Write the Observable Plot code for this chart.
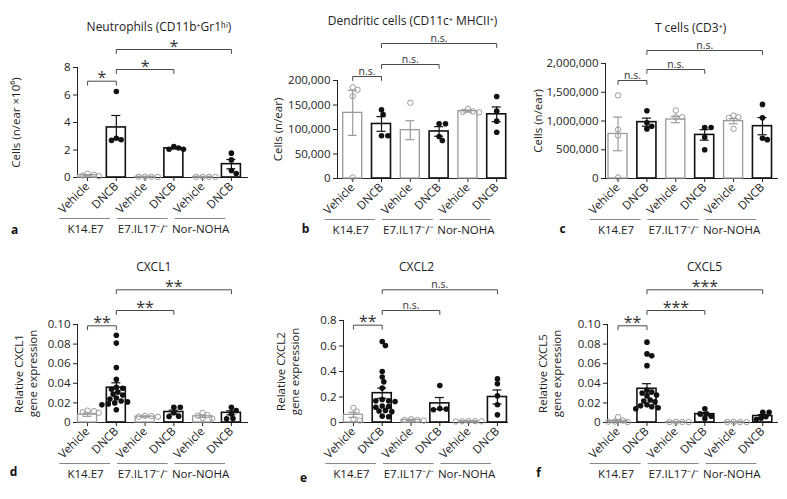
<!DOCTYPE html>
<html><head><meta charset="utf-8">
<script src="https://cdn.jsdelivr.net/npm/d3@7"></script>
<script src="https://cdn.jsdelivr.net/npm/@observablehq/plot@0.6"></script>
<style>
body{margin:0;background:#fff;}
#root{position:relative;width:787px;height:499px;overflow:hidden;}
.panel{position:absolute;}
</style></head><body><div id="root"></div>
<script>
// ---------- shared categories ----------
const treatment = ["Vehicle","DNCB","Vehicle","DNCB","Vehicle","DNCB"];
const groups = ["K14.E7","E7.IL17⁻/⁻","Nor-NOHA"];
const bracketPairs = [[0,1],[1,3],[1,5]];

// ---------- panel a: Neutrophils ----------
const neutroTitle = "Neutrophils (CD11b⁺Gr1ʰⁱ)";
const neutroYLabel = "Cells (n/ear ×10⁶)";
const neutroTicks = [0,2,4,6,8];
const neutroMean = [0.17, 3.64, 0.05, 2.12, 0.045, 0.97];
const neutroSem  = [0.04, 0.87, 0.005, 0.05, 0.005, 0.34];
const neutroPoints = [[0.10,0.14,0.20,0.28],[6.25,2.85,2.70,2.75],[0.05,0.06,0.04,0.05],[2.15,2.05,2.05,2.25],[0.04,0.05,0.05,0.04],[1.77,1.28,0.51,0.29]];
const neutroSig = ["*","*","*"];

// ---------- panel b: Dendritic cells ----------
const dcTitle = "Dendritic cells (CD11c⁺ MHCII⁺)";
const dcYLabel = "Cells (n/ear)";
const dcTicks = [0,50000,100000,150000,200000];
const dcMean = [134000, 111300, 98600, 96000, 137500, 131000];
const dcSem  = [46000, 15000, 19400, 9800, 2000, 15000];
const dcPoints = [[181000,186000,168000,2000],[140200,130600,87100,87100],[154500],[111600,111600,85700,77600],[137000,135000,136000,142000],[167400,137400,117000,94500]];
const dcSig = ["n.s.","n.s.","n.s."];

// ---------- panel c: T cells ----------
const tTitle = "T cells (CD3⁺)";
const tYLabel = "Cells (n/ear)";
const tTicks = [0,500000,1000000,1500000,2000000];
const tMean = [775000, 980000, 1026000, 758000, 997000, 910000];
const tSem  = [292000, 70000, 55000, 91000, 45000, 150000];
const tPoints = [[1446000,851000,746000,17000],[1178000,968000,910000,863000],[1184000,1067000,1067000],[886000,886000,717000,501000],[1096000,1067000,1055000,863000],[1289000,1055000,676000,700000]];
const tSig = ["n.s.","n.s.","n.s."];

// ---------- panel d: CXCL1 ----------
const cxcl1Title = "CXCL1";
const cxcl1YLabel = "Relative CXCL1\ngene expression";
const cxcl1Ticks = [0,0.02,0.04,0.06,0.08,0.10];
const cxcl1Mean = [0.0080, 0.0355, 0.0060, 0.0107, 0.0063, 0.0099];
const cxcl1Sem  = [0.0017, 0.0050, 0.0005, 0.0020, 0.0013, 0.0021];
const cxcl1Points = [[0.0099,0.0116,0.0105,0.0122],[0.089,0.081,0.056,0.044,0.036,0.035,0.034,0.031,0.029,0.028,0.025,0.024,0.022,0.021,0.020,0.019,0.018,0.013],[0.0065,0.0060,0.0068,0.0058],[0.0156,0.0156,0.0099,0.0061,0.0065],[0.0070,0.0098,0.0075,0.0040,0.0045],[0.0122,0.0156,0.0088,0.0037,0.0040]];
const cxcl1Sig = ["**","**","**"];

// ---------- panel e: CXCL2 ----------
const cxcl2Title = "CXCL2";
const cxcl2YLabel = "Relative CXCL2\ngene expression";
const cxcl2Ticks = [0,0.2,0.4,0.6,0.8];
const cxcl2Mean = [0.06, 0.23, 0.02, 0.15, 0.01, 0.20];
const cxcl2Sem  = [0.02, 0.04, 0.004, 0.046, 0.002, 0.055];
const cxcl2Points = [[0.115,0.085,0.025,0.015],[0.635,0.604,0.40,0.356,0.319,0.27,0.18,0.17,0.17,0.165,0.13,0.125,0.12,0.095,0.09,0.085,0.05,0.045],[0.025,0.02,0.02,0.015],[0.29,0.105,0.10,0.11],[0.01,0.012,0.008,0.01,0.009],[0.342,0.303,0.209,0.139,0.06]];
const cxcl2Sig = ["**","n.s.","n.s."];

// ---------- panel f: CXCL5 ----------
const cxcl5Title = "CXCL5";
const cxcl5YLabel = "Relative CXCL5\ngene expression";
const cxcl5Ticks = [0,0.02,0.04,0.06,0.08,0.10];
const cxcl5Mean = [0.0015, 0.0344, 0.0005, 0.0085, 0.0005, 0.0066];
const cxcl5Sem  = [0.0008, 0.0052, 0.0001, 0.0017, 0.0001, 0.0015];
const cxcl5Points = [[0.0055,0.002,0.001,0.0005,0.0008],[0.082,0.070,0.068,0.058,0.033,0.031,0.030,0.028,0.027,0.023,0.022,0.021,0.018,0.017,0.016,0.015,0.014],[0.0006,0.0005,0.0004,0.0005],[0.014,0.009,0.0088,0.0065,0.004],[0.0006,0.0004,0.0005,0.0005],[0.0105,0.0105,0.006,0.0044,0.003]];
const cxcl5Sig = ["**","***","***"];

// ---------- styling / layout ----------
const VEH = "#9b9b9b", DNCB = "#111", BRK = "#4a4a4a", TXT = "#222";
const FONT = "'Open Sans', sans-serif";
const fmtComma = d3.format(",");
const fmt2 = v => v === 0 ? "0" : d3.format(".2f")(v);
const fmt1 = v => v === 0 ? "0" : d3.format(".1f")(v);

function swarm(vals, pxPerY, r) {
  const order = d3.range(vals.length).sort((a,b)=>vals[b]-vals[a]);
  const placed = [], out = new Array(vals.length), minD = 2*r*0.92;
  for (const k of order) {
    const y = vals[k]*pxPerY;
    let chosen = null;
    for (let s = 0; s <= 10 && chosen === null; s++) {
      for (const sign of (s === 0 ? [1] : [1,-1])) {
        const c = sign*s*1.6;
        if (placed.every(p => (p.x-c)**2 + (p.y-y)**2 >= minD*minD)) { chosen = c; break; }
      }
    }
    if (chosen === null) chosen = 0;
    placed.push({x: chosen, y}); out[k] = chosen;
  }
  return out;
}

function panel(p) {
  const frameH = p.height - p.mT - p.mB;
  const frameW = p.width - p.mL - p.mR;
  const bottom = p.height - p.mB;
  const ymax = p.ticks[p.ticks.length-1];
  const pxPerX = frameW/(p.xdom[1]-p.xdom[0]);
  const pxPerY = frameH/ymax;
  const bars = p.mean.map((m,i)=>({i, mean:m, sem:p.sem[i], veh: i%2===0}));
  const pts = [];
  p.points.forEach((arr,i)=>{
    const offs = swarm(arr, pxPerY, 2.7);
    arr.forEach((v,k)=>pts.push({x: i + offs[k]/pxPerX, v, veh: i%2===0}));
  });
  const capHalf = 4.5/pxPerX;
  const caps = bars.flatMap(b=>[{i:b.i, y:b.mean-b.sem, veh:b.veh},{i:b.i, y:b.mean+b.sem, veh:b.veh}]);
  const tick = 4/pxPerY;
  const brk = [], brkLab = [];
  bracketPairs.forEach(([a,b],k)=>{
    const L = ymax*(bottom - p.bracketPx[k])/frameH;
    brk.push({id:k,x:a,y:L-tick},{id:k,x:a,y:L},{id:k,x:b,y:L},{id:k,x:b,y:L-tick});
    brkLab.push({x:(a+b)/2, y:L, t:p.sig[k], ns: p.sig[k] === "n.s."});
  });
  const grp = groups.map((g,k)=>({g, x1:2*k-0.96, x2:2*k+0.8, xc:2*k-0.07}));
  const fillFor = d => d.veh ? VEH : DNCB;
  const chart = Plot.plot({
    width: p.width, height: p.height,
    marginLeft: p.mL, marginRight: p.mR, marginTop: p.mT, marginBottom: p.mB,
    style: {fontFamily: FONT, fontSize: "11.5px", color: TXT, background: "transparent", overflow: "visible"},
    x: {type:"linear", domain: p.xdom, ticks:[0,1,2,3,4,5], tickFormat: i => treatment[i], tickRotate:-45, tickSize:4, tickPadding:3, line:true, label:null},
    y: {domain:[0,ymax], ticks: p.ticks, tickFormat: p.fmt, tickSize:4, tickPadding:3, line:true, label:null},
    marks: [
      Plot.rectY(bars.filter(d=>d.veh), {x1:d=>d.i-0.33, x2:d=>d.i+0.33, y1:0, y2:"mean", fill:"white", stroke:VEH, strokeWidth:1.3}),
      Plot.rectY(bars.filter(d=>!d.veh), {x1:d=>d.i-0.33, x2:d=>d.i+0.33, y1:0, y2:"mean", fill:"white", stroke:DNCB, strokeWidth:1.6}),
      Plot.ruleX(bars, {x:"i", y1:d=>Math.max(0,d.mean-d.sem), y2:d=>d.mean+d.sem, stroke:fillFor, strokeWidth:1.2}),
      Plot.ruleY(caps, {x1:d=>d.i-capHalf, x2:d=>d.i+capHalf, y:"y", stroke:fillFor, strokeWidth:1.2}),
      Plot.dot(pts.filter(d=>d.veh), {x:"x", y:"v", r:2.7, stroke:VEH, fill:"none", strokeWidth:1}),
      Plot.dot(pts.filter(d=>!d.veh), {x:"x", y:"v", r:2.8, fill:DNCB, stroke:"none"}),
      Plot.line(brk, {x:"x", y:"y", z:"id", stroke:BRK, strokeWidth:1}),
      Plot.text(brkLab.filter(d=>d.ns), {x:"x", y:"y", text:"t", lineAnchor:"bottom", dy:-2, fill:"#333", fontSize:10.5}),
      Plot.text(brkLab.filter(d=>!d.ns), {x:"x", y:"y", text:"t", lineAnchor:"middle", dy:-3, fill:"#333", fontSize:16, letterSpacing:"1.5px"}),
      Plot.ruleY(grp, {x1:"x1", x2:"x2", y:0, dy:41, stroke:"#888", strokeWidth:1}),
      Plot.text(grp, {x:"xc", y:0, dy:52, text:"g", fontSize:11.5, fill:TXT}),
      Plot.text([p.title], {x: p.titleX, frameAnchor:"top", lineAnchor:"middle", dy:p.titleDy, fontSize:12, fill:TXT}),
      Plot.text([p.ylabel], {frameAnchor:"left", textAnchor:"middle", lineAnchor:"middle", rotate:-90, dx:p.ylabDx, fontSize:11.5, lineHeight:1.2, fill:TXT}),
      Plot.text([p.letter], {frameAnchor:"top-left", textAnchor:"middle", lineAnchor:"middle", dx:p.letterX - p.mL, dy:p.letterY - p.mT, fontSize:12, fontWeight:"bold", fill:"#111"})
    ]
  });
  const div = document.createElement("div");
  div.className = "panel";
  div.style.left = p.left + "px"; div.style.top = p.top + "px";
  div.appendChild(chart);
  document.getElementById("root").appendChild(div);
}

panel({left:0, top:0, width:260, height:250, mL:77, mR:13, mT:67, mB:73, xdom:[-0.35,5.56],
  titleX:2.48, titleDy:-40, ylabDx:-62, letter:"a", letterX:14, letterY:230, bracketPx:[80.7,69,49],
  title:neutroTitle, ylabel:neutroYLabel, ticks:neutroTicks, fmt:d3.format("d"), mean:neutroMean, sem:neutroSem, points:neutroPoints, sig:neutroSig});
panel({left:260, top:0, width:260, height:250, mL:77, mR:14, mT:80, mB:72, xdom:[-0.528,5.34],
  titleX:2.08, titleDy:-59, ylabDx:-60, letter:"b", letterX:45, letterY:229, bracketPx:[76,64,43],
  title:dcTitle, ylabel:dcYLabel, ticks:dcTicks, fmt:fmtComma, mean:dcMean, sem:dcSem, points:dcPoints, sig:dcSig});
panel({left:520, top:0, width:267, height:250, mL:85, mR:10, mT:63, mB:72, xdom:[-0.433,5.52],
  titleX:2.51, titleDy:-35, ylabDx:-68, letter:"c", letterX:42, letterY:229, bracketPx:[80,69,50],
  title:tTitle, ylabel:tYLabel, ticks:tTicks, fmt:fmtComma, mean:tMean, sem:tSem, points:tPoints, sig:tSig});
panel({left:0, top:250, width:260, height:249, mL:77, mR:13, mT:74, mB:77, xdom:[-0.35,5.56],
  titleX:2.3, titleDy:-57, ylabDx:-52, letter:"d", letterX:13, letterY:222, bracketPx:[75.3,60,39.3],
  title:cxcl1Title, ylabel:cxcl1YLabel, ticks:cxcl1Ticks, fmt:fmt2, mean:cxcl1Mean, sem:cxcl1Sem, points:cxcl1Points, sig:cxcl1Sig});
panel({left:260, top:250, width:260, height:249, mL:83, mR:13, mT:70, mB:77, xdom:[-0.345,5.35],
  titleX:2.19, titleDy:-53, ylabDx:-56, letter:"e", letterX:43, letterY:228, bracketPx:[74.7,60,39.3],
  title:cxcl2Title, ylabel:cxcl2YLabel, ticks:cxcl2Ticks, fmt:fmt1, mean:cxcl2Mean, sem:cxcl2Sem, points:cxcl2Points, sig:cxcl2Sig});
panel({left:520, top:250, width:267, height:249, mL:87, mR:10, mT:74, mB:77, xdom:[-0.364,5.51],
  titleX:2.99, titleDy:-57, ylabDx:-58, letter:"f", letterX:18, letterY:223, bracketPx:[75.3,60,39.3],
  title:cxcl5Title, ylabel:cxcl5YLabel, ticks:cxcl5Ticks, fmt:fmt2, mean:cxcl5Mean, sem:cxcl5Sem, points:cxcl5Points, sig:cxcl5Sig});
</script></body></html>
